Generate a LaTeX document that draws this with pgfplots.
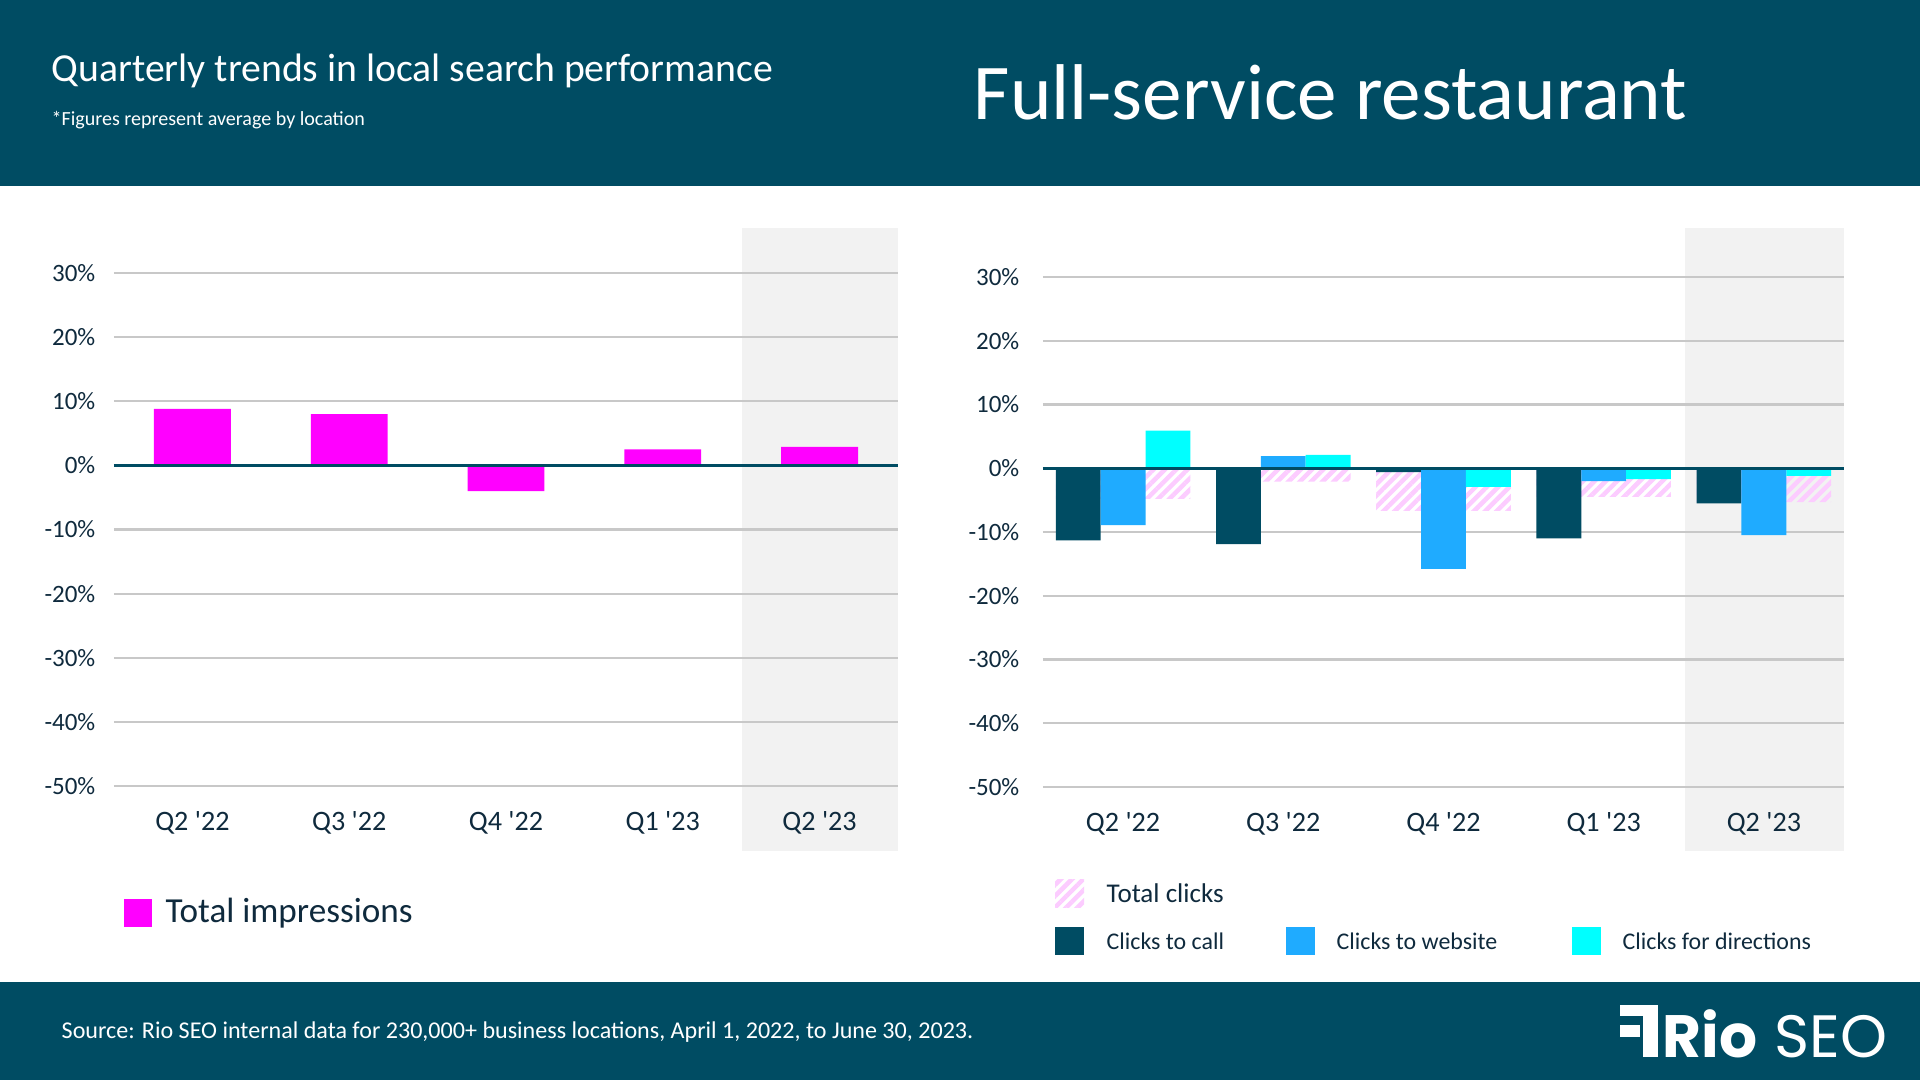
\documentclass[border=0pt]{standalone}
\usepackage{fontspec}
\setmainfont{Carlito}
\newfontfamily\logofont{Poppins}
\usepackage{pgfplots}
\pgfplotsset{compat=1.18}
\usetikzlibrary{patterns.meta}

\definecolor{band}{HTML}{004C63}
\definecolor{callc}{HTML}{004C63}
\definecolor{webc}{HTML}{1FABFF}
\definecolor{dirc}{HTML}{00FFFF}
\definecolor{magc}{HTML}{FF00FF}
\definecolor{hatchc}{HTML}{FCCCFF}
\definecolor{gridc}{HTML}{C8C8C8}
\definecolor{shadec}{HTML}{F2F2F2}
\definecolor{textc}{HTML}{0F2A3D}

\tikzset{hatch/.style={pattern={Lines[angle=45,distance=0.8mm,line width=0.45mm]},pattern color=hatchc}}

\pgfplotsset{panel/.style={
  scale only axis, clip=false,
  xmin=-0.5, xmax=4.5, ymin=-50, ymax=30,
  xtick={0,1,2,3,4},
  xticklabels={Q2 \textquotesingle22,Q3 \textquotesingle22,Q4 \textquotesingle22,Q1 \textquotesingle23,Q2 \textquotesingle23},
  ytick={-50,-40,-30,-20,-10,0,10,20,30},
  yticklabels={-50\%,-40\%,-30\%,-20\%,-10\%,0\%,10\%,20\%,30\%},
  ymajorgrids, grid style={color=gridc, line width=0.22mm},
  axis line style={draw=none}, tick style={draw=none},
  yticklabel style={font=\fontsize{7.1}{8}\selectfont, text=textc, anchor=east, inner sep=0pt},
  xticklabel style={font=\fontsize{8}{9}\selectfont, text=textc, anchor=center, inner sep=0pt, yshift=-3.7mm},
}}

\begin{document}
\begin{tikzpicture}[x=0.1mm,y=0.1mm]
% canvas, bands and shaded quarter
\fill[white] (0,0) rectangle (1920,1080);
\fill[band] (0,894) rectangle (1920,1080);
\fill[band] (0,0) rectangle (1920,98);
\fill[shadec] (742,229) rectangle (898,852);
\fill[shadec] (1685,229) rectangle (1844,852);

\node[anchor=west, inner sep=0, white, font=\fontsize{11.3}{13}\selectfont] at (51,1009) {Quarterly trends in local search performance};
\node[anchor=west, inner sep=0, white, font=\fontsize{5.7}{7}\selectfont] at (51,960) {*Figures represent average by location};
\node[anchor=west, inner sep=0, white, font=\fontsize{22.5}{26}\selectfont] at (973,988) {Full-service restaurant};
\node[anchor=west, inner sep=0, white, font=\fontsize{6.85}{8}\selectfont] at (61,48) {Source: Rio SEO internal data for 230,000+ business locations, April 1, 2022, to June 30, 2023.};

% logo
\fill[white] (1620,64) rectangle (1658,75);
\fill[white] (1620,43) rectangle (1640,55);
\fill[white] (1643,23) rectangle (1658,64);
\node[anchor=base west, inner sep=0, white, font=\logofont\bfseries\fontsize{17}{17}\selectfont] at (1662,23) {Rio};
\node[anchor=base west, inner sep=0, white, font=\logofont\fontsize{17}{17}\selectfont] at (1774,23) {SEO};

% left chart
\begin{axis}[panel, at={(11.4mm,29.4mm)}, anchor=south west, width=78.4mm, height=51.3mm,
  yticklabel style={xshift=-1.8mm}]
\addplot[ybar, bar width=0.49, bar shift=0, fill=magc, draw=none]
  coordinates {(0,8.8) (1,8.0) (2,-4.0) (3,2.5) (4,2.9)};
\addplot[callc, line width=0.25mm] coordinates {(-0.5,0) (4.5,0)};
\end{axis}

% right chart
\begin{axis}[panel, at={(104.3mm,29.3mm)}, anchor=south west, width=80.1mm, height=51.0mm,
  yticklabel style={xshift=-2.3mm}]
\addplot[ybar, bar width=0.84, bar shift=0, hatch, draw=none]
  coordinates {(0,-4.8) (1,-2.1) (2,-6.7) (3,-4.5) (4,-5.3)};
\addplot[ybar, bar width=0.28, bar shift=-0.28, fill=callc, draw=none]
  coordinates {(0,-11.3) (1,-11.9) (2,-0.6) (3,-11.0) (4,-5.5)};
\addplot[ybar, bar width=0.28, bar shift=0, fill=webc, draw=none]
  coordinates {(0,-8.9) (1,1.9) (2,-15.8) (3,-2.0) (4,-10.5)};
\addplot[ybar, bar width=0.28, bar shift=0.28, fill=dirc, draw=none]
  coordinates {(0,5.9) (1,2.1) (2,-2.9) (3,-1.7) (4,-1.2)};
\addplot[callc, line width=0.25mm] coordinates {(-0.5,0) (4.5,0)};
\end{axis}

% legends
\fill[magc] (124,153) rectangle (152,181);
\node[anchor=west, inner sep=0, text=textc, font=\fontsize{10}{12}\selectfont] at (165,167) {Total impressions};

\fill[hatch] (1055,173) rectangle (1084,201);
\node[anchor=west, inner sep=0, text=textc, font=\fontsize{7.7}{9}\selectfont] at (1106,187) {Total clicks};
\fill[callc] (1055,125) rectangle (1084,153);
\node[anchor=west, inner sep=0, text=textc, font=\fontsize{6.8}{8}\selectfont] at (1106,139) {Clicks to call};
\fill[webc] (1286,125) rectangle (1315,153);
\node[anchor=west, inner sep=0, text=textc, font=\fontsize{6.8}{8}\selectfont] at (1336,139) {Clicks to website};
\fill[dirc] (1572,125) rectangle (1601,153);
\node[anchor=west, inner sep=0, text=textc, font=\fontsize{6.8}{8}\selectfont] at (1622,139) {Clicks for directions};
\end{tikzpicture}
\end{document}
